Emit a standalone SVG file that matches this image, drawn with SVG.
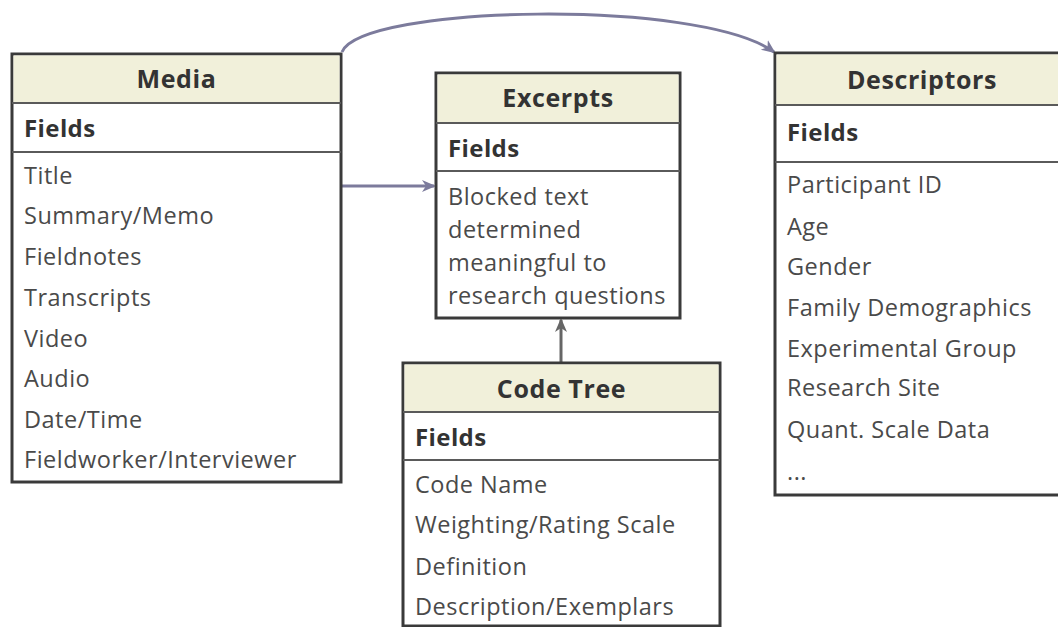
<svg xmlns="http://www.w3.org/2000/svg" width="1058" height="627" viewBox="0 0 1058 627">
<style>
.box{fill:#ffffff;stroke:#3a3a3a;stroke-width:3}
.hdr{fill:#f1f0da;stroke:none}
.div{stroke:#5a5a5a;stroke-width:2}
.ttl{font-family:"Open Sans","Noto Sans",sans-serif;font-weight:bold;font-size:25px;letter-spacing:0.6px;fill:#333;text-anchor:middle}
.fld{font-family:"Open Sans","Noto Sans",sans-serif;font-weight:bold;font-size:24px;letter-spacing:0.4px;fill:#333}
.itm{font-family:"Open Sans","Noto Sans",sans-serif;font-size:23.5px;letter-spacing:0.5px;fill:#4a4a4a}
.con{fill:none;stroke:#7c7b9c;stroke-width:3}
.con2{fill:none;stroke:#666;stroke-width:3}
</style>
<defs>
<marker id="ah" markerWidth="14" markerHeight="14" refX="12" refY="7" orient="auto" markerUnits="userSpaceOnUse" viewBox="0 0 14 14"><path d="M0,1 L14,7 L0,13 L4,7 Z" fill="#7c7b9c"/></marker>
<marker id="ah2" markerWidth="14" markerHeight="14" refX="12" refY="7" orient="auto" markerUnits="userSpaceOnUse" viewBox="0 0 14 14"><path d="M0,1 L14,7 L0,13 L4,7 Z" fill="#666"/></marker>
</defs>
<rect width="1058" height="627" fill="#ffffff"/>
<g id="connectors">
<path class="con" d="M342,52 C362,5 700,-2 774,52" marker-end="url(#ah)"/>
<line class="con" x1="342" y1="186" x2="434" y2="186" marker-end="url(#ah)"/>
<line class="con2" x1="561" y1="363" x2="561" y2="320" marker-end="url(#ah2)"/>
</g>
<g id="media">
<rect class="box" x="12" y="54" width="329" height="428"/>
<rect class="hdr" x="13.5" y="55.5" width="326" height="47"/>
<line class="div" x1="12" y1="103" x2="341" y2="103"/>
<line class="div" x1="12" y1="152" x2="341" y2="152"/>
<text class="ttl" x="176.5" y="88">Media</text>
<text class="fld" x="24" y="137">Fields</text>
<text class="itm" x="24" y="184">Title</text>
<text class="itm" x="24" y="224">Summary/Memo</text>
<text class="itm" x="24" y="265">Fieldnotes</text>
<text class="itm" x="24" y="306">Transcripts</text>
<text class="itm" x="24" y="347">Video</text>
<text class="itm" x="24" y="387">Audio</text>
<text class="itm" x="24" y="428">Date/Time</text>
<text class="itm" x="24" y="468">Fieldworker/Interviewer</text>
</g>
<g id="excerpts">
<rect class="box" x="436" y="73" width="244" height="245"/>
<rect class="hdr" x="437.5" y="74.5" width="241" height="48"/>
<line class="div" x1="436" y1="123" x2="680" y2="123"/>
<line class="div" x1="436" y1="171" x2="680" y2="171"/>
<text class="ttl" x="558" y="107">Excerpts</text>
<text class="fld" x="448" y="157">Fields</text>
<text class="itm" x="448" y="205">Blocked text</text>
<text class="itm" x="448" y="238">determined</text>
<text class="itm" x="448" y="271">meaningful to</text>
<text class="itm" x="448" y="304">research questions</text>
</g>
<g id="codetree">
<rect class="box" x="403" y="363" width="317" height="263"/>
<rect class="hdr" x="404.5" y="364.5" width="314" height="47"/>
<line class="div" x1="403" y1="412" x2="720" y2="412"/>
<line class="div" x1="403" y1="460" x2="720" y2="460"/>
<text class="ttl" x="561.5" y="398">Code Tree</text>
<text class="fld" x="415" y="446">Fields</text>
<text class="itm" x="415" y="493">Code Name</text>
<text class="itm" x="415" y="533">Weighting/Rating Scale</text>
<text class="itm" x="415" y="575">Definition</text>
<text class="itm" x="415" y="615">Description/Exemplars</text>
</g>
<g id="descriptors">
<rect class="box" x="775" y="53" width="300" height="442"/>
<rect class="hdr" x="776.5" y="54.5" width="297" height="50"/>
<line class="div" x1="775" y1="105" x2="1075" y2="105"/>
<line class="div" x1="775" y1="162" x2="1075" y2="162"/>
<text class="ttl" x="922" y="89">Descriptors</text>
<text class="fld" x="787" y="141">Fields</text>
<text class="itm" x="787" y="193">Participant ID</text>
<text class="itm" x="787" y="235">Age</text>
<text class="itm" x="787" y="275">Gender</text>
<text class="itm" x="787" y="316">Family Demographics</text>
<text class="itm" x="787" y="357">Experimental Group</text>
<text class="itm" x="787" y="396">Research Site</text>
<text class="itm" x="787" y="438">Quant. Scale Data</text>
<text class="itm" x="787" y="480">...</text>
</g>
</svg>
